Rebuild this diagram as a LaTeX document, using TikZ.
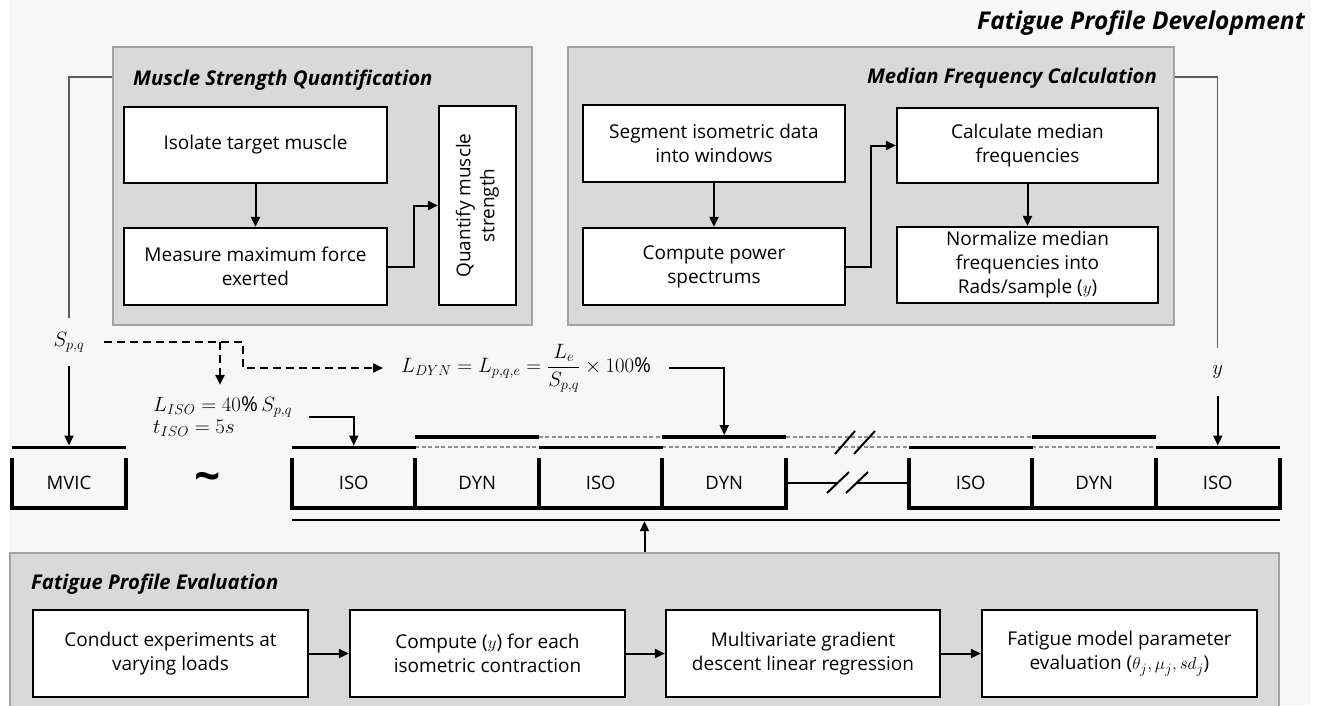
\documentclass[tikz,border=0pt]{standalone}
\usepackage{fontspec}
\setmainfont{Open Sans}
\usetikzlibrary{arrows.meta}
\definecolor{bgc}{HTML}{F7F7F7}
\definecolor{pfill}{HTML}{D9D9D9}
\definecolor{pline}{HTML}{A3A3A3}
\definecolor{tline}{HTML}{5A5A5A}
\definecolor{dgray}{HTML}{8F8F8F}
\newcommand{\boxfnt}{\fontsize{19}{24}\selectfont}
\newcommand{\mathfnt}{\fontsize{20.5}{22}\selectfont}
\begin{document}
\begin{tikzpicture}[x=1pt,y=-1pt,
  panel/.style={draw=pline, fill=pfill, line width=2pt, inner sep=0pt},
  box/.style={draw=black, fill=white, line width=2.2pt, align=center, inner sep=0pt, font=\boxfnt},
  ptitle/.style={inner sep=0pt, font=\fontsize{20.3}{24}\selectfont\bfseries\itshape},
  conn/.style={line width=2pt, -{Triangle[length=10pt,width=9pt]}},
  dconn/.style={line width=2.2pt, dash pattern=on 8pt off 5pt, -{Triangle[length=10pt,width=9pt]}},
  thinl/.style={draw=tline, line width=1.3pt},
  slot/.style={inner sep=0pt, minimum width=123.5pt, minimum height=50pt, font=\fontsize{18.5}{22}\selectfont},
  brk/.style={line width=4pt, line join=miter},
  losolid/.style={line width=3pt},
  upsolid/.style={line width=4pt},
  dline/.style={draw=dgray, line width=1.3pt, dash pattern=on 4pt off 2.5pt},
  slash/.style={line width=2pt},
  mtext/.style={font=\mathfnt}
]
\useasboundingbox (0,0) rectangle (1327,705);
\fill[white] (0,0) rectangle (1327,705);
\fill[bgc] (9,0) rectangle (1311,705);

% main title
\node[ptitle, font=\fontsize{24.5}{28}\selectfont\bfseries\itshape, anchor=base east] (title) at (1305,29) {Fatigue Profile Development};

% panels
\node[panel, minimum width=419pt, minimum height=278pt] (p1) at (322.5,186) {};
\node[panel, minimum width=606pt, minimum height=278pt] (p2) at (870.5,186) {};
\node[panel, minimum width=1269pt, minimum height=157pt] (p3) at (644.5,631.5) {};

\node[ptitle, anchor=base west] (t1) at (133,85) {Muscle Strength Quantification};
\node[ptitle, anchor=base east] (t2) at (1157,83) {Median Frequency Calculation};
\node[ptitle, anchor=base west] (t3) at (31,589) {Fatigue Profile Evaluation};

% panel 1 boxes
\node[box, minimum width=263pt, minimum height=76pt] (iso) at (255.5,145) {Isolate target muscle};
\node[box, minimum width=263pt, minimum height=77pt] (meas) at (255.5,266.5) {Measure maximum force\\exerted};
\node[box, rotate=90, minimum width=199pt, minimum height=77pt] (quant) at (477.5,205.5) {Quantify muscle\\strength};
\draw[conn] (iso.south) -- (meas.north);
\draw[conn] (meas.east) -- ++(26,0) |- (quant.north);

% panel 2 boxes
\node[box, minimum width=262pt, minimum height=77pt] (seg) at (714,143.5) {Segment isometric data\\into windows};
\node[box, minimum width=262pt, minimum height=77pt] (comp) at (714,266.5) {Compute power\\spectrums};
\node[box, minimum width=261pt, minimum height=75pt] (calc) at (1027.5,145.5) {Calculate median\\frequencies};
\node[box, minimum width=261pt, minimum height=76pt] (norm) at (1027.5,265) {Normalize median\\frequencies into\\Rads/sample ($y$)};
\draw[conn] (seg.south) -- (comp.north);
\draw[conn] (comp.east) -- ++(25,0) |- (calc.west);
\draw[conn] (calc.south) -- (norm.north);

% bottom boxes
\node[box, minimum width=275pt, minimum height=87pt] (c1) at (170.5,653.5) {Conduct experiments at\\varying loads};
\node[box, minimum width=275pt, minimum height=87pt] (c2) at (487.5,653.5) {Compute ($y$) for each\\isometric contraction};
\node[box, minimum width=274pt, minimum height=87pt] (c3) at (803,653.5) {Multivariate gradient\\descent linear regression};
\node[box, minimum width=275pt, minimum height=87pt] (c4) at (1119.5,653.5) {Fatigue model parameter\\evaluation ($\theta_j,\mu_j,sd_j$)};
\draw[conn] (c1.east) -- (c2.west);
\draw[conn] (c2.east) -- (c3.west);
\draw[conn] (c3.east) -- (c4.west);

% level coordinates
\coordinate (yA) at (0,77);
\coordinate (lowL) at (0,447);
\coordinate (upL) at (0,437);
\coordinate (lgY) at (0,520);

% timeline slots
\node[slot, minimum width=114pt] (mvic) at (69,483) {MVIC};
\node[font=\fontsize{46}{46}\selectfont\bfseries] (tilde) at (208,482) {\char"7E};
\node[slot] (iso1) at (353.75,483) {ISO};
\node[slot] (dyn1) at (477.25,483) {DYN};
\node[slot] (iso2) at (600.75,483) {ISO};
\node[slot] (dyn2) at (724.25,483) {DYN};
\node[slot] (iso3) at (970.75,483) {ISO};
\node[slot] (dyn3) at (1094.25,483) {DYN};
\node[slot] (iso4) at (1217.75,483) {ISO};

% brackets
\draw[brk] (mvic.north west) -- (mvic.south west) -- (mvic.south east) -- (mvic.north east);
\draw[brk] (iso1.north west) -- (iso1.south west) -- (dyn2.south east) -- (dyn2.north east);
\draw[brk] (dyn1.north west) -- (dyn1.south west);
\draw[brk] (iso2.north west) -- (iso2.south west);
\draw[brk] (dyn2.north west) -- (dyn2.south west);
\draw[brk] (iso3.north west) -- (iso3.south west) -- (iso4.south east) -- (iso4.north east);
\draw[brk] (dyn3.north west) -- (dyn3.south west);
\draw[brk] (iso4.north west) -- (iso4.south west);

% top level lines
\draw[losolid] (mvic.west |- lowL) -- (mvic.east |- lowL);
\draw[dline] (dyn1.west |- lowL) -- (dyn1.east |- lowL);
\draw[dline] (dyn2.west |- lowL) -- (iso3.west |- lowL);
\draw[dline] (dyn3.west |- lowL) -- (dyn3.east |- lowL);
\draw[dline] (iso2.west |- upL) -- (iso2.east |- upL);
\draw[dline] (dyn2.east |- upL) -- (dyn3.west |- upL);
\draw[losolid] (iso1.west |- lowL) -- (iso1.east |- lowL);
\draw[losolid] (iso2.west |- lowL) -- (iso2.east |- lowL);
\draw[losolid] (iso3.west |- lowL) -- (iso3.east |- lowL);
\draw[losolid] (iso4.west |- lowL) -- (iso4.east |- lowL);
\draw[upsolid] (dyn1.west |- upL) -- (dyn1.east |- upL);
\draw[upsolid] (dyn2.west |- upL) -- (dyn2.east |- upL);
\draw[upsolid] (dyn3.west |- upL) -- (dyn3.east |- upL);
\draw[slash] (835,454) -- (855,431);
\draw[slash] (854,454) -- (875,431);

% break in timeline
\coordinate (b1) at (838,483);
\coordinate (b2) at (857,483);
\draw[line width=2.5pt] (dyn2.east) -- (b1);
\draw[line width=2.5pt] (b2) -- (iso3.west);
\draw[slash] (827,493) -- (849,472);
\draw[slash] (846,493) -- (868,472);

% long line
\draw[line width=2.5pt] (iso1.west |- lgY) -- (iso4.east |- lgY);
\draw[conn, shorten >=1.2pt] (p3.north) -- (p3.north |- lgY);

% labels
\node[mtext, inner xsep=19pt, inner ysep=14pt] (S) at (69,342) {$S_{p,q}$};
\node[mtext, inner ysep=17pt] (ylab) at (1217.75,372) {$y$};
\node[mtext, anchor=west, align=left, inner xsep=17pt, inner ysep=12pt] (Liso) at (136,417) {$L_{ISO}=40\%\,S_{p,q}$\\$t_{ISO}=5s$};
\node[mtext, anchor=west, inner xsep=18pt, inner ysep=0pt] (Ldyn) at (383,368) {$\displaystyle L_{DYN}=L_{p,q,e}=\frac{L_e}{S_{p,q}}\times 100\%$};

% thin connectors from panels
\draw[thinl] (p1.west |- yA) -| (S.north);
\draw[thinl] (p2.east |- yA) -| (ylab.north);

% arrows into the timeline
\draw[conn, shorten >=1.5pt] (S.south) -- (mvic |- lowL);
\draw[conn, shorten >=1.5pt] (ylab.south) -- (iso4 |- lowL);
\draw[conn, shorten >=1.5pt] (Liso.east) -| (iso1 |- lowL);
\draw[conn, shorten >=2pt] (Ldyn.east) -| (dyn2 |- upL);

% dashed arrows
\coordinate (dk) at (243,342);
\coordinate (brx) at (220,342);
\draw[dconn] (S.east) -- (dk) |- (Ldyn.west);
\draw[dconn] (brx) -- (brx |- Liso.north);
\end{tikzpicture}
\end{document}
